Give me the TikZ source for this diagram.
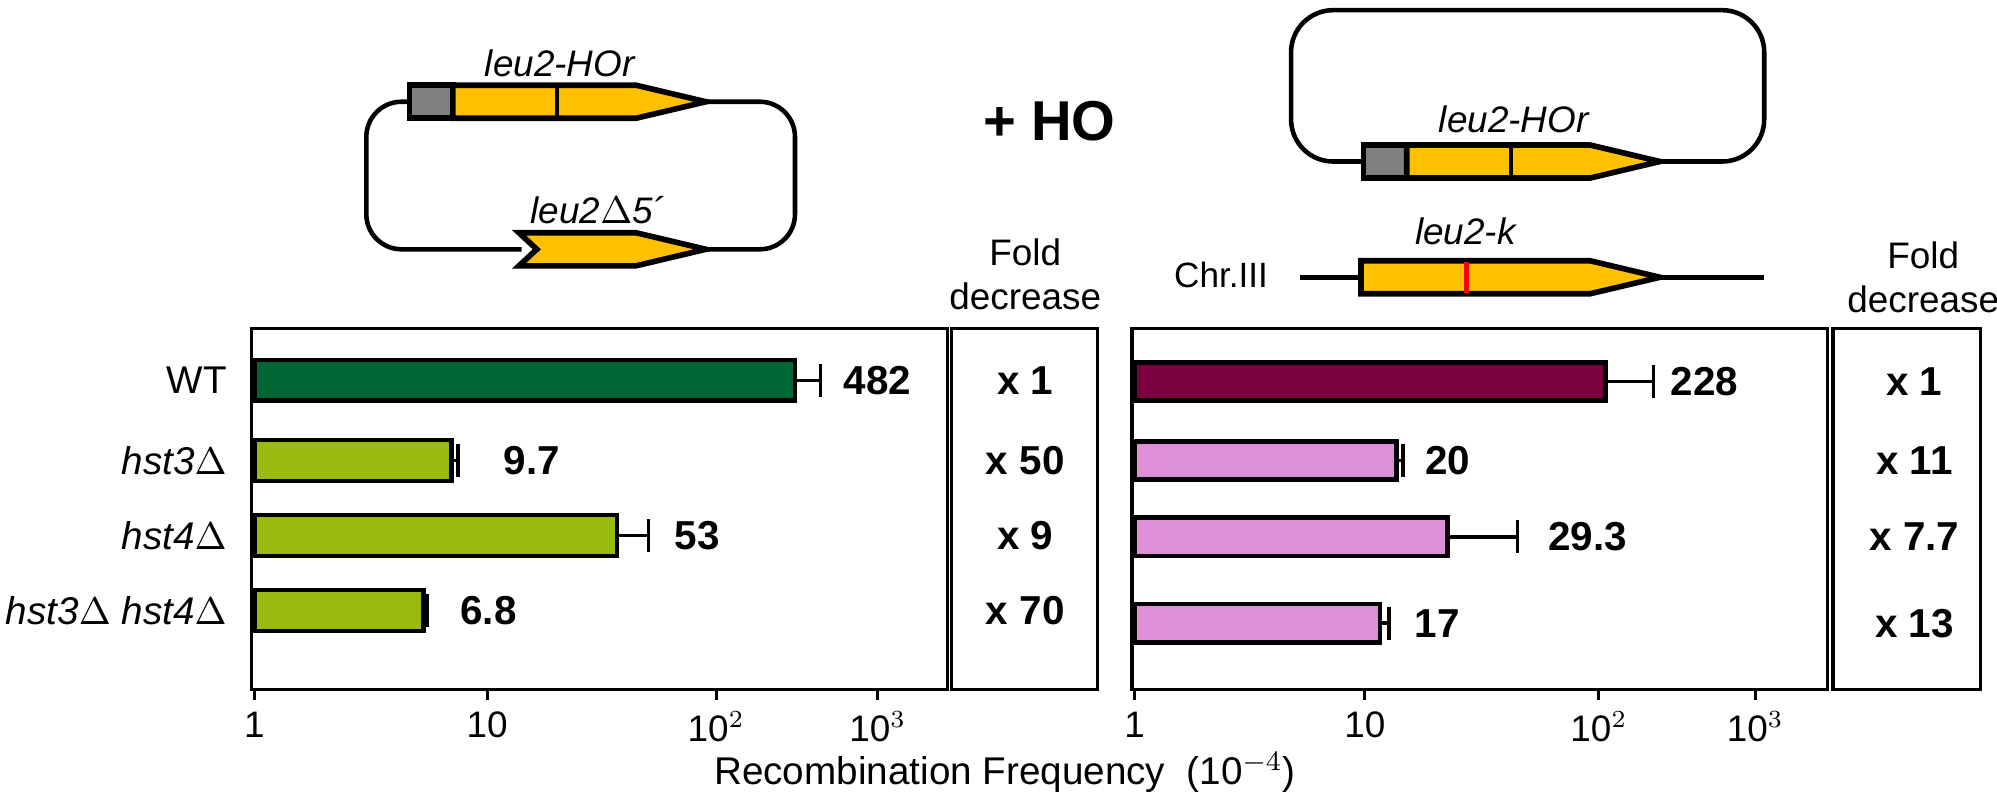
\documentclass[tikz,border=0pt]{standalone}
\usepackage{fontspec}
\setmainfont{Liberation Sans}
\begin{document}
\begin{tikzpicture}[x=0.01272cm,y=-0.01272cm,
  ln/.style={line width=1.3pt},
  gene/.style={draw=black,line width=1.6pt,fill=genecol},
  bar/.style={draw=black,line width=1.3pt},
  lab/.style={font=\fontsize{10.5}{12}\selectfont\itshape},
  num/.style={font=\fontsize{11.5}{12}\selectfont\bfseries},
  row/.style={font=\fontsize{11}{12}\selectfont,anchor=east},
  tick/.style={font=\fontsize{10.5}{12}\selectfont,anchor=north},
  hdr/.style={font=\fontsize{10.5}{12.5}\selectfont,align=center}]
\definecolor{genecol}{HTML}{FFC000}
\definecolor{dg}{HTML}{006633}
\definecolor{lg}{HTML}{99BB11}
\definecolor{mr}{HTML}{7A0040}
\definecolor{pk}{HTML}{DD90D8}
\useasboundingbox (0,0) rectangle (1570,629);
% left plasmid
\draw[ln,rounded corners=10] (322,80) -- (288,80) -- (288,196) -- (410,196);
\draw[ln,rounded corners=10] (555,80) -- (625,80) -- (625,196) -- (555,196);
\draw[gene,fill=gray] (322,67) rectangle (356,93);
\draw[gene] (356,67) -- (500,67) -- (555,80) -- (500,93) -- (356,93) -- cycle;
\draw[line width=1.3pt] (438,67) -- (438,93);
\draw[gene] (408,183) -- (500,183) -- (555,196) -- (500,209) -- (408,209) -- (422,196) -- cycle;
\node[lab] (l1) at (440,50) {leu2-HOr};
\node[lab] (l2) at (470,165) {leu2$\Delta$5\textasciiacute};
\node[font=\fontsize{16}{18}\selectfont\bfseries] (ho) at (825,95) {+ HO};
% right plasmid
\draw[ln,rounded corners=12] (1072,127) -- (1015,127) -- (1015,8) -- (1387,8) -- (1387,127) -- (1305,127);
\draw[gene,fill=gray] (1072,114) rectangle (1106,140);
\draw[gene] (1106,114) -- (1250,114) -- (1305,127) -- (1250,140) -- (1106,140) -- cycle;
\draw[line width=1.3pt] (1188,114) -- (1188,140);
\node[lab] (l3) at (1190,94) {leu2-HOr};
% chromosome
\node[font=\fontsize{10}{11}\selectfont] (chr) at (960,216) {Chr.III};
\draw[ln] (1022,218) -- (1070,218);
\draw[ln] (1305,218) -- (1387,218);
\draw[gene] (1070,205) -- (1250,205) -- (1305,218) -- (1250,231) -- (1070,231) -- cycle;
\draw[red,line width=1.3pt] (1153,206) -- (1153,230);
\node[lab] (l4) at (1152,182) {leu2-k};
% headers
\node[hdr] (fd1) at (806,216) {Fold\\decrease};
\node[hdr] (fd2) at (1512,218) {Fold\\decrease};
% boxes
\draw[line width=0.9pt] (198,258) rectangle (745,542);
\draw[line width=0.9pt] (748,258) rectangle (863,542);
\draw[line width=0.9pt] (890,258) rectangle (1437,542);
\draw[line width=0.9pt] (1441,258) rectangle (1557,542);
% axes ticks
\foreach \x/\t in {200/1,383/10,563/10$^2$,690/10$^3$}{\draw[line width=0.9pt] (\x,542) -- (\x,550); \node[tick] at (\x,550) {\t};}
\foreach \x/\t in {892/1,1073/10,1257/10$^2$,1380/10$^3$}{\draw[line width=0.9pt] (\x,542) -- (\x,550); \node[tick] at (\x,550) {\t};}
\node[font=\fontsize{11}{13}\selectfont] (xt) at (790,607) {Recombination Frequency~~(10$^{-4}$)};
% row labels
\node[row] (r1) at (188,299) {WT};
\node[row] (r2) at (188,362) {\itshape hst3$\Delta$};
\node[row] (r3) at (188,421) {\itshape hst4$\Delta$};
\node[row] (r4) at (188,480) {\itshape hst3$\Delta$ hst4$\Delta$};
% left bars
\foreach \y/\e/\er/\c/\v/\lx in {299/625/645/dg/482/690, 362/355/360/lg/9.7/418, 421/485/510/lg/53/548, 480/333/336/lg/6.8/384}{
  \draw[line width=1pt] (\e,\y) -- (\er,\y); \draw[line width=1pt] (\er,\y-13) -- (\er,\y+13);
  \draw[bar,fill=\c] (200,\y-16) rectangle (\e,\y+16);
  \node[num] at (\lx,\y) {\v};}
\foreach \y/\v in {299/x 1,362/x 50,421/x 9,480/x 70}{\node[num] at (806,\y) {\v};}
% right bars
\foreach \y/\e/\er/\c/\v/\lx in {300/1262/1300/mr/228/1340, 362/1098/1103/pk/20/1138, 422/1138/1193/pk/29.3/1248, 490/1085/1092/pk/17/1130}{
  \draw[line width=1pt] (\e,\y) -- (\er,\y); \draw[line width=1pt] (\er,\y-13) -- (\er,\y+13);
  \draw[bar,fill=\c] (892,\y-15) rectangle (\e,\y+15);
  \node[num] at (\lx,\y) {\v};}
\foreach \y/\v in {300/x 1,362/x 11,422/x 7.7,490/x 13}{\node[num] at (1505,\y) {\v};}
\end{tikzpicture}
\end{document}
